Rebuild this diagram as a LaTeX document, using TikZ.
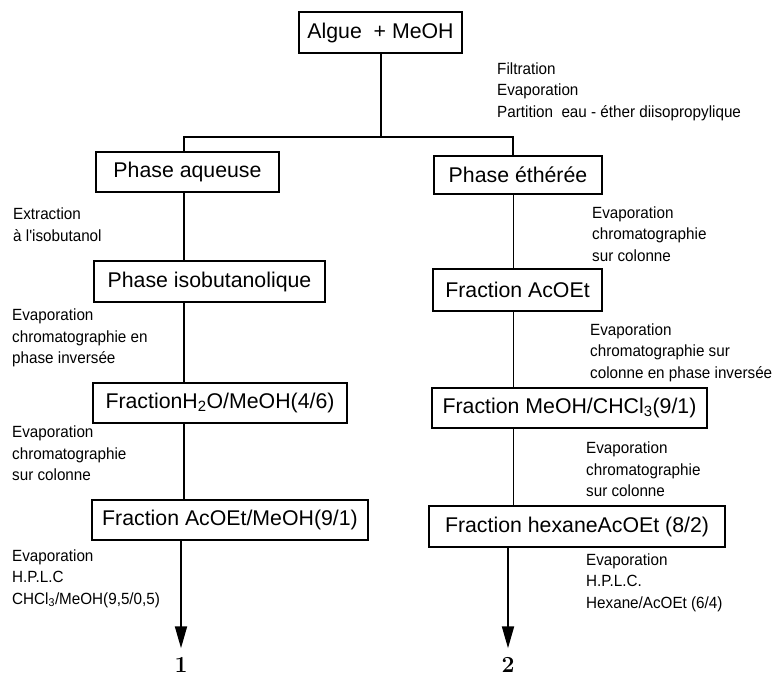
\documentclass[tikz,border=0pt]{standalone}
\usepackage{fontspec}
\newfontfamily\arialfont{Liberation Sans}
\newfontfamily\narrowfont[FakeStretch=0.94]{Liberation Sans}
\usepackage{tikz}
\usetikzlibrary{arrows.meta, positioning, calc}

\begin{document}
\begin{tikzpicture}[
  x=1pt, y=-1pt,
  fraction/.style={rectangle, draw, line width=1.6pt, inner sep=0pt,
                   font=\arialfont\fontsize{21.3}{24}\selectfont, align=center},
  cond/.style={anchor=west, inner sep=0pt, align=left,
               font=\narrowfont\fontsize{16.2}{21.5}\selectfont},
  link/.style={line width=2pt},
  thinlink/.style={line width=1pt},
  narr/.style={-{Triangle[length=22pt, width=12pt]}, line width=2pt, shorten >=8pt},
  result/.style={font=\fontsize{23}{23}\selectfont\bfseries, inner sep=1pt},
]
\useasboundingbox (0,0) rectangle (775,677);

\node[fraction, minimum width=163pt, minimum height=41pt] (algue) at (380.5,32.5) {Algue~~+ MeOH};

\node[fraction, minimum width=183pt, minimum height=40pt] (aq)  at (187.5,172) {Phase aqueuse};
\node[fraction, minimum width=168pt, minimum height=38pt] (eth) at (518,175) {Phase éthérée};

\node[fraction, minimum width=231pt, minimum height=41pt] (isob)  at (209.5,281.5) {Phase isobutanolique};
\node[fraction, minimum width=169pt, minimum height=42pt] (acoet) at (517.5,290) {Fraction AcOEt};

\node[fraction, minimum width=254pt, minimum height=40pt] (h2o)  at (220,403) {FractionH\textsubscript{2}O/MeOH(4/6)};
\node[fraction, minimum width=275pt, minimum height=40pt] (meoh) at (569.5,408) {Fraction MeOH/CHCl\textsubscript{3}(9/1)};

\node[fraction, minimum width=276pt, minimum height=40pt] (acmeoh) at (230,520) {Fraction AcOEt/MeOH(9/1)};
\node[fraction, minimum width=296pt, minimum height=41pt] (hex)    at (577,526.5) {Fraction hexaneAcOEt (8/2)};

\node[result] (one) at (181,665) {1};
\node[result] (two) at (508,665) {2};

% conditions
\node[cond] (filt)  at (497,91.5)  {Filtration\\Evaporation\\Partition~~eau - éther diisopropylique};
\node[cond] (extr)  at (13,224.5)  {Extraction\\à l'isobutanol};
\node[cond] (evapA) at (592,234)   {Evaporation\\chromatographie\\sur colonne};
\node[cond] (evapB) at (12,338)    {Evaporation\\chromatographie en\\phase inversée};
\node[cond] (evapC) at (590,352.5) {Evaporation\\chromatographie sur\\colonne en phase inversée};
\node[cond] (evapD) at (12,453.5)  {Evaporation\\chromatographie\\sur colonne};
\node[cond] (evapE) at (586,469.5) {Evaporation\\chromatographie\\sur colonne};
\node[cond] (hplcA) at (12,578.5)  {Evaporation\\H.P.L.C\\CHCl\textsubscript{3}/MeOH(9,5/0,5)};
\node[cond] (hplcB) at (586,582.5) {Evaporation\\H.P.L.C.\\Hexane/AcOEt (6/4)};

% connectors
\coordinate (split) at (380,137);
\coordinate (colL) at (184,0);
\coordinate (colR) at (513,0);
\draw[link] (algue) -- (algue |- split);
\draw[link] (aq.north -| colL) |- (split) -| (eth.north -| colR);
\draw[link] (aq.south -| colL) -- (isob.north -| colL);
\draw[link] (isob.south -| colL) -- (h2o.north -| colL);
\draw[link] (h2o.south -| colL) -- (acmeoh.north -| colL);
\draw[thinlink] (eth.south -| colR) -- (acoet.north -| colR);
\draw[thinlink] (acoet.south -| colR) -- (meoh.north -| colR);
\draw[thinlink] (meoh.south -| colR) -- (hex.north -| colR);
\draw[narr] (acmeoh.south -| one) -- (one);
\draw[narr] (hex.south -| two) -- (two);

\end{tikzpicture}
\end{document}
